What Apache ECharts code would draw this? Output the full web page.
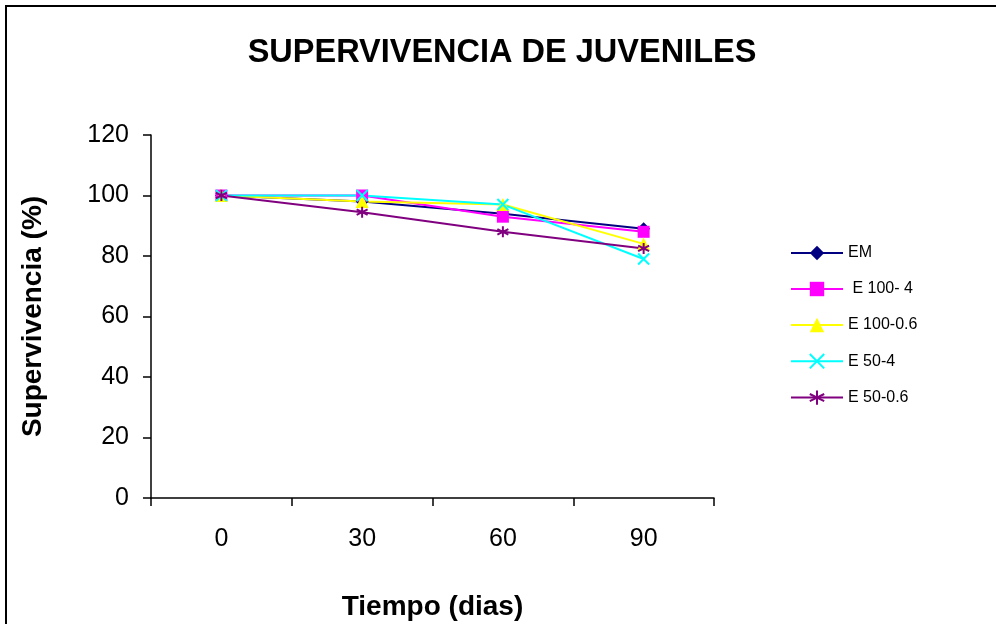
<!DOCTYPE html>
<html>
<head>
<meta charset="utf-8">
<script src="https://cdn.jsdelivr.net/npm/echarts@6/dist/echarts.min.js"></script>
<style>
  html, body { margin: 0; padding: 0; background: #fff; }
  #chart { width: 996px; height: 624px; }
</style>
</head>
<body>
<div id="chart"></div>
<script>
// Survival of juveniles (%) over time for each treatment
const days = ['0', '30', '60', '90'];
const seriesNames = ['EM', ' E 100- 4', 'E 100-0.6', 'E 50-4', 'E 50-0.6'];
const emValues      = [100, 98, 94, 89];
const e100_4Values  = [100, 100, 93, 88];
const e100_06Values = [100, 98, 97, 84];
const e50_4Values   = [100, 100, 97, 79];
const e50_06Values  = [100, 94.5, 88, 82.5];
const yTicks = { min: 0, max: 120, interval: 20 };

const FONT = '"Liberation Sans", Arial, sans-serif';
const crossPath = 'path://M0,0L10,10M10,0L0,10';
const starPath = 'path://M5,0L5,10M0.7,2.5L9.3,7.5M0.7,7.5L9.3,2.5';

function lineSeries(name, data, color, symbol, size, strokeOnly) {
  return {
    name: name,
    type: 'line',
    data: data,
    symbol: symbol,
    symbolSize: size,
    showAllSymbol: true,
    lineStyle: { color: color, width: 2 },
    itemStyle: strokeOnly
      ? { color: color, borderColor: color, borderWidth: 2 }
      : { color: color, borderWidth: 0 },
    emphasis: { disabled: true },
    animation: false
  };
}

const chart = echarts.init(document.getElementById('chart'), null, { renderer: 'canvas' });
chart.setOption({
  backgroundColor: '#ffffff',
  animation: false,
  title: {
    text: 'SUPERVIVENCIA DE JUVENILES',
    left: 497,
    top: 32,
    textAlign: 'center',
    textStyle: { fontFamily: FONT, fontSize: 32.5, fontWeight: 'bold', color: '#000' }
  },
  graphic: [{
    type: 'rect',
    shape: { x: 6, y: 6, width: 1100, height: 800 },
    style: { fill: 'none', stroke: '#000', lineWidth: 2 },
    silent: true
  }],
  legend: {
    orient: 'vertical',
    left: 790,
    top: 245,
    padding: 0,
    itemWidth: 52,
    itemHeight: 18,
    itemGap: 20,
    data: seriesNames,
    textStyle: { fontFamily: FONT, fontSize: 16, color: '#000' }
  },
  grid: { left: 151, top: 135, width: 563, height: 363, containLabel: false, outerBoundsMode: 'none' },
  xAxis: {
    type: 'category',
    data: days,
    boundaryGap: true,
    name: 'Tiempo (dias)',
    nameLocation: 'middle',
    nameGap: 95,
    nameTextStyle: { fontFamily: FONT, fontSize: 28, fontWeight: 'bold', color: '#000' },
    axisLine: { lineStyle: { color: '#000', width: 1.5 } },
    axisTick: { show: true, length: 8, lineStyle: { color: '#000', width: 1.5 } },
    axisLabel: { fontFamily: FONT, fontSize: 25, color: '#000', margin: 29 },
    splitLine: { show: false }
  },
  yAxis: {
    type: 'value',
    min: yTicks.min,
    max: yTicks.max,
    interval: yTicks.interval,
    name: 'Supervivencia (%)',
    nameLocation: 'middle',
    nameGap: 104,
    nameTextStyle: { fontFamily: FONT, fontSize: 28, fontWeight: 'bold', color: '#000' },
    axisLine: { show: true, lineStyle: { color: '#000', width: 1.5 } },
    axisTick: { show: true, length: 8, lineStyle: { color: '#000', width: 1.5 } },
    axisLabel: { fontFamily: FONT, fontSize: 25, color: '#000', margin: 22 },
    splitLine: { show: false }
  },
  series: [
    lineSeries(seriesNames[0], emValues, '#000080', 'diamond', 13, false),
    lineSeries(seriesNames[1], e100_4Values, '#FF00FF', 'rect', 12, false),
    lineSeries(seriesNames[2], e100_06Values, '#FFFF00', 'triangle', 13, false),
    lineSeries(seriesNames[3], e50_4Values, '#00FFFF', crossPath, 11, true),
    lineSeries(seriesNames[4], e50_06Values, '#800080', starPath, 11, true)
  ]
});
</script>
</body>
</html>
